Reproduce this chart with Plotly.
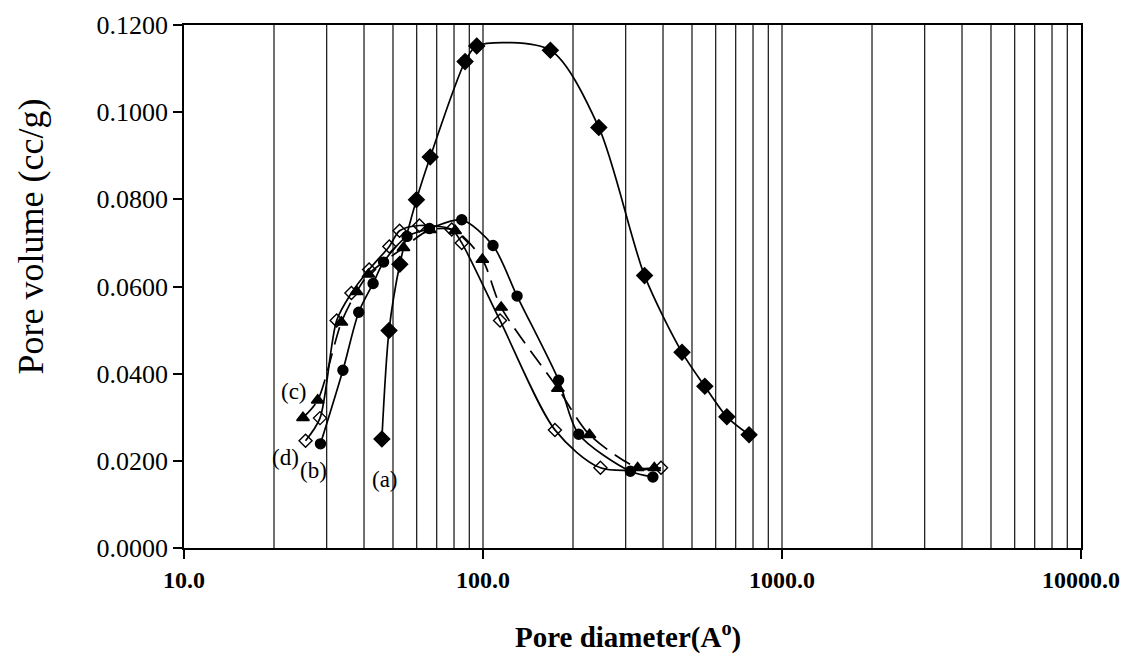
import math
import plotly.graph_objects as go

# Pore size distributions of four samples (diameter in Angstrom, volume in cc/g)
a_d = [45.9, 48.5, 52.7, 59.9, 66.6, 87.1, 95.3, 168, 244, 347, 463, 552, 654, 776]
a_v = [0.0250, 0.0499, 0.0651, 0.0799, 0.0897, 0.1116, 0.1152, 0.1142, 0.0965, 0.0625, 0.0449, 0.0371, 0.0301, 0.0260]

b_d = [28.6, 34.0, 38.4, 42.9, 46.5, 55.7, 66.2, 84.9, 108, 130, 179, 209, 311, 370]
b_v = [0.0239, 0.0408, 0.0541, 0.0607, 0.0656, 0.0715, 0.0733, 0.0753, 0.0694, 0.0578, 0.0385, 0.0261, 0.0176, 0.0163]

c_d = [25.0, 28.0, 33.6, 37.8, 41.4, 54.2, 66.5, 80.7, 99.5, 115, 178, 227, 329, 374]
c_v = [0.0299, 0.0339, 0.0518, 0.0588, 0.0628, 0.0689, 0.0730, 0.0728, 0.0662, 0.0552, 0.0366, 0.0260, 0.0184, 0.0184]

d_d = [25.5, 28.5, 32.4, 36.3, 41.6, 48.6, 52.6, 61.3, 78.6, 84.9, 114, 174, 247, 394]
d_v = [0.0246, 0.0298, 0.0522, 0.0585, 0.0639, 0.0692, 0.0728, 0.0740, 0.0731, 0.0700, 0.0522, 0.0271, 0.0184, 0.0184]

labels = ["(a)", "(b)", "(c)", "(d)"]
label_x = [47.1, 27.1, 23.3, 21.9]
label_y = [0.0157, 0.0178, 0.0358, 0.0208]

y_ticks = [0.0, 0.02, 0.04, 0.06, 0.08, 0.10, 0.12]
x_ticks = [10, 100, 1000, 10000]
x_tick_text = ["10.0", "100.0", "1000.0", "10000.0"]

serif = "Liberation Serif, Times New Roman, serif"

fig = go.Figure()

series = [
    (a_d, a_v, "diamond", "solid", 12),
    (b_d, b_v, "circle", "solid", 10),
    (c_d, c_v, "triangle-up", "dash", 11),
    (d_d, d_v, "diamond-open", "solid", 10),
]
for (xs, ys, sym, dash, size), name in zip(series, labels):
    fig.add_trace(go.Scatter(
        x=xs, y=ys, mode="lines+markers", name=name,
        line=dict(color="black", width=1.7, dash="18px,9px" if dash == "dash" else "solid",
                  shape="spline", smoothing=0.8),
        marker=dict(symbol=sym, size=size, color="black",
                    line=dict(color="black", width=1.4)),
    ))

# Vertical grid lines at every 1-9 multiple of each decade
grid_x = [m * 10 ** e for e in range(1, 4) for m in range(1, 10)] + [10000]
for gx in grid_x[1:-1]:
    fig.add_shape(type="line", xref="x", yref="paper", x0=gx, x1=gx, y0=0, y1=1,
                  line=dict(color="#222", width=1.3), layer="below")

# Curve labels (annotation x on a log axis is given as log10)
for t, lx, ly in zip(labels, label_x, label_y):
    fig.add_annotation(x=math.log10(lx), y=ly, xref="x", yref="y", text=t, showarrow=False,
                       font=dict(family=serif, size=23, color="black"))

# Axis titles
fig.add_annotation(x=0.4955, y=-0.168, xref="paper", yref="paper", showarrow=False,
                   text="<b>Pore diameter(A<sup>o</sup>)</b>", xanchor="center", yanchor="middle",
                   font=dict(family=serif, size=29, color="black"))
fig.add_annotation(x=-0.171, y=0.595, xref="paper", yref="paper", showarrow=False,
                   text="Pore volume (cc/g)", textangle=-90, xanchor="center", yanchor="middle",
                   font=dict(family=serif, size=36, color="black"))

fig.update_layout(
    width=1126, height=659,
    margin=dict(l=184, r=45, t=25, b=111),
    paper_bgcolor="white", plot_bgcolor="white",
    showlegend=False,
    xaxis=dict(
        type="log", range=[1, 4], automargin=False,
        tickvals=x_ticks, ticktext=x_tick_text,
        ticks="outside", ticklen=9, tickwidth=1.5, tickcolor="black",
        showgrid=False, showline=True, linecolor="black", linewidth=1.5, mirror=True,
        tickfont=dict(family=serif, size=24, color="black", weight="bold"),
        zeroline=False,
    ),
    yaxis=dict(
        range=[0, 0.12], tickvals=y_ticks, tickformat=".4f", automargin=False,
        ticks="outside", ticklen=9, tickwidth=1.5, tickcolor="black",
        showgrid=False, showline=True, linecolor="black", linewidth=1.5, mirror=True,
        tickfont=dict(family=serif, size=26, color="black"),
        zeroline=False,
    ),
)

fig.write_html("out.html")
